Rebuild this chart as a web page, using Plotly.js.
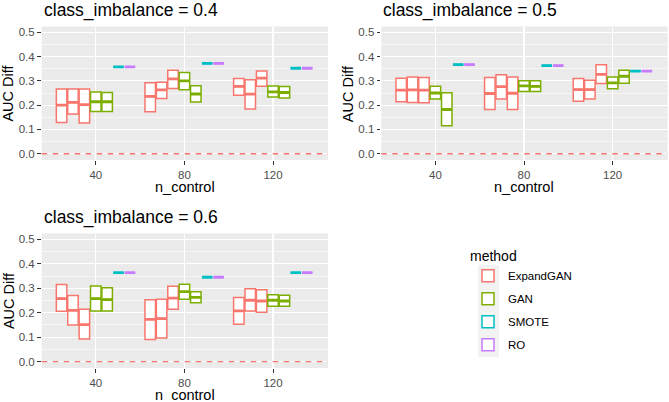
<!DOCTYPE html>
<html>
<head>
<meta charset="utf-8">
<script src="https://cdn.plot.ly/plotly-3.0.1.min.js"></script>
<style>
  html, body { margin: 0; padding: 0; background: white; }
  #graph { width: 669px; height: 402px; }
</style>
</head>
<body>
<div id="graph"></div>
<script>
// n_control groups on the x axis, one panel per class_imbalance
var nControl = [40, 80, 120];
var classImbalance = ['0.4', '0.5', '0.6'];
var methods = ['ExpandGAN', 'GAN', 'SMOTE', 'RO'];
var colors = ['#F8766D', '#7CAE00', '#00BFC4', '#C77CFF'];

// boxes as [q1, median, q3], listed n_control 40 then 80 then 120
var expandGAN_04 = [[0.129, 0.200, 0.266], [0.163, 0.211, 0.266], [0.126, 0.202, 0.266],
                    [0.173, 0.236, 0.292], [0.227, 0.263, 0.294], [0.269, 0.308, 0.344],
                    [0.241, 0.277, 0.310], [0.184, 0.245, 0.305], [0.278, 0.311, 0.341]];
var gan_04 = [[0.174, 0.214, 0.254], [0.174, 0.214, 0.252],
              [0.263, 0.300, 0.334], [0.213, 0.246, 0.280],
              [0.234, 0.255, 0.279], [0.229, 0.252, 0.277]];
var smote_04 = [0.358, 0.372, 0.352];
var ro_04 = [0.358, 0.372, 0.352];

var expandGAN_05 = [[0.214, 0.262, 0.311], [0.211, 0.263, 0.316], [0.210, 0.262, 0.314],
                    [0.182, 0.248, 0.314], [0.225, 0.276, 0.325], [0.182, 0.249, 0.316],
                    [0.216, 0.264, 0.310], [0.225, 0.264, 0.303], [0.289, 0.327, 0.366]];
var gan_05 = [[0.225, 0.250, 0.278], [0.115, 0.182, 0.251],
              [0.256, 0.279, 0.300], [0.256, 0.277, 0.300],
              [0.268, 0.292, 0.316], [0.290, 0.319, 0.344]];
var smote_05 = [0.367, 0.363, 0.340];
var ro_05 = [0.367, 0.363, 0.340];

var expandGAN_06 = [[0.206, 0.258, 0.315], [0.150, 0.210, 0.270], [0.093, 0.151, 0.214],
                    [0.091, 0.173, 0.253], [0.097, 0.176, 0.255], [0.214, 0.260, 0.308],
                    [0.153, 0.208, 0.262], [0.207, 0.251, 0.298], [0.202, 0.248, 0.294]];
var gan_06 = [[0.207, 0.258, 0.309], [0.207, 0.254, 0.302],
              [0.255, 0.286, 0.316], [0.241, 0.263, 0.286],
              [0.226, 0.251, 0.274], [0.226, 0.248, 0.272]];
var smote_06 = [0.364, 0.345, 0.364];
var ro_06 = [0.364, 0.345, 0.364];

var refLine = 0;

var W = 669, H = 402;
function px(x) { return x / W; }
function py(y) { return 1 - y / H; }

// dodge: 7 boxes share 0.9 of the 40 spacing
var slots = 7;
var dodgeW = 0.9 * 40;
var slotW = dodgeW / slots;
var boxW = slotW * 0.92;
var slotStart = [0, 3, 5, 6];
var perGroup = [3, 2, 1, 1];

function flat(vals) {
    return vals.map(function (v) { return [v, v, v]; });
}

var panelData = [
    [expandGAN_04, gan_04, flat(smote_04), flat(ro_04)],
    [expandGAN_05, gan_05, flat(smote_05), flat(ro_05)],
    [expandGAN_06, gan_06, flat(smote_06), flat(ro_06)]
];

var traces = [];
var medTraces = [];
panelData.forEach(function (pd, p) {
    var ax = p === 0 ? '' : String(p + 1);
    pd.forEach(function (boxes, m) {
        var xs = [], q1 = [], med = [], q3 = [];
        var mx = [], my = [];
        boxes.forEach(function (b, i) {
            var g = Math.floor(i / perGroup[m]);
            var k = slotStart[m] + (i % perGroup[m]);
            var cx = nControl[g] - dodgeW / 2 + (k + 0.5) * slotW;
            xs.push(cx);
            q1.push(b[0]); med.push(b[1]); q3.push(b[2]);
            // ggplot draws the median fatter than the box outline
            mx.push(cx - boxW / 2, cx + boxW / 2, null);
            my.push(b[1], b[1], null);
        });
        traces.push({
            type: 'box',
            name: methods[m],
            legendgroup: methods[m],
            showlegend: p === 0,
            x: xs,
            q1: q1,
            median: med,
            q3: q3,
            lowerfence: q1,
            upperfence: q3,
            width: boxW,
            whiskerwidth: 0,
            boxpoints: false,
            fillcolor: 'white',
            line: {color: colors[m], width: 1.5},
            xaxis: 'x' + ax,
            yaxis: 'y' + ax,
            hoverinfo: 'skip'
        });
        medTraces.push({
            type: 'scatter',
            mode: 'lines',
            x: mx,
            y: my,
            line: {color: colors[m], width: 2.8},
            legendgroup: methods[m],
            showlegend: false,
            xaxis: 'x' + ax,
            yaxis: 'y' + ax,
            hoverinfo: 'skip'
        });
    });
});
traces = traces.concat(medTraces);

var font = 'Liberation Sans, Arial, sans-serif';
var panels = [
    {x0: 41.7, x1: 328, y0: 26.5, y1: 160},
    {x0: 381.3, x1: 667.6, y0: 26.5, y1: 160},
    {x0: 41.7, x1: 328, y0: 233.5, y1: 368}
];

var layout = {
    width: W,
    height: H,
    margin: {l: 0, r: 0, t: 0, b: 0},
    paper_bgcolor: 'white',
    plot_bgcolor: '#EBEBEB',
    font: {family: font, color: '#000000'},
    showlegend: true,
    legend: {
        x: px(468), y: py(243), xanchor: 'left', yanchor: 'top',
        title: {text: 'method', font: {size: 14, color: '#000000'}},
        font: {size: 11.5, color: '#000000'},
        tracegroupgap: 4,
        bgcolor: 'rgba(0,0,0,0)'
    },
    annotations: [],
    shapes: [{
        // grey key background of the legend
        type: 'rect', xref: 'paper', yref: 'paper',
        x0: px(478), x1: px(499), y0: py(357), y1: py(265),
        fillcolor: '#F2F2F2', line: {width: 0}, layer: 'below'
    }]
};

panels.forEach(function (pn, p) {
    var ax = p === 0 ? '' : String(p + 1);
    layout['xaxis' + ax] = {
        domain: [px(pn.x0), px(pn.x1)],
        range: [15.6, 144.8],
        anchor: 'y' + ax,
        tickvals: nControl,
        ticks: 'outside', ticklen: 3.7, tickwidth: 1, tickcolor: '#333333',
        tickfont: {size: 11.5, color: '#4D4D4D', family: font},
        showgrid: true, gridcolor: 'white', gridwidth: 1.1,
        zeroline: false, showline: false, automargin: false, fixedrange: true
    };
    layout['yaxis' + ax] = {
        domain: [py(pn.y1), py(pn.y0)],
        range: [-0.026, 0.524],
        anchor: 'x' + ax,
        tick0: 0, dtick: 0.1, tickformat: '.1f',
        ticks: 'outside', ticklen: 3.7, tickwidth: 1, tickcolor: '#333333',
        tickfont: {size: 11.5, color: '#4D4D4D', family: font},
        showgrid: true, gridcolor: 'white', gridwidth: 1.1,
        minor: {tick0: 0.05, dtick: 0.1, showgrid: true, gridcolor: 'white', gridwidth: 0.55},
        zeroline: false, showline: false, automargin: false, fixedrange: true
    };
    layout.shapes.push({
        type: 'line', xref: 'x' + ax + ' domain', yref: 'y' + ax,
        x0: 0, x1: 1, y0: refLine, y1: refLine,
        line: {color: '#F8766D', width: 1.4, dash: '5.5px,5.5px'},
        layer: 'above'
    });
    layout.annotations.push({
        text: 'class_imbalance = ' + classImbalance[p],
        xref: 'paper', yref: 'paper',
        x: px(pn.x0), y: py(pn.y0 - 16), xanchor: 'left', yanchor: 'middle',
        showarrow: false, font: {size: 17.5, color: '#000000'}
    });
    layout.annotations.push({
        text: 'AUC Diff',
        xref: 'paper', yref: 'paper',
        x: px(pn.x0 - 33.4), y: py((pn.y0 + pn.y1) / 2), xanchor: 'center', yanchor: 'middle',
        textangle: -90, showarrow: false, font: {size: 14.5, color: '#000000'}
    });
    layout.annotations.push({
        text: 'n_control',
        xref: 'paper', yref: 'paper',
        x: px((pn.x0 + pn.x1) / 2), y: py(pn.y1 + 26.5), xanchor: 'center', yanchor: 'middle',
        showarrow: false, font: {size: 14.5, color: '#000000'}
    });
});

Plotly.newPlot('graph', traces, layout, {staticPlot: true});
</script>
</body>
</html>
